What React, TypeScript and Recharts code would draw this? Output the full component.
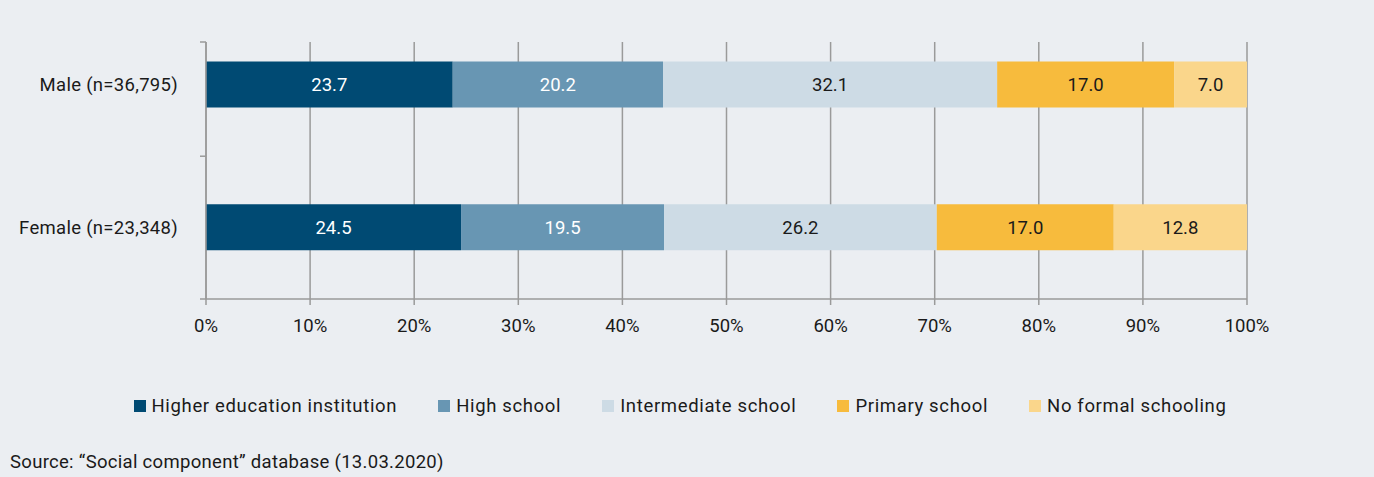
import { Bar, BarChart, CartesianGrid, LabelList, XAxis, YAxis } from "recharts"

const categories = ["Male (n=36,795)", "Female (n=23,348)"]
const higherEducation = [23.7, 24.5]
const highSchool = [20.2, 19.5]
const intermediateSchool = [32.1, 26.2]
const primarySchool = [17.0, 17.0]
const noFormalSchooling = [7.0, 12.8]
const xTicks = [0, 10, 20, 30, 40, 50, 60, 70, 80, 90, 100]

const series = [
  { key: "higher", name: "Higher education institution", values: higherEducation, color: "#004a73", text: "#ffffff" },
  { key: "high", name: "High school", values: highSchool, color: "#6896b3", text: "#ffffff" },
  { key: "intermediate", name: "Intermediate school", values: intermediateSchool, color: "#cddbe5", text: "#1a1a1a" },
  { key: "primary", name: "Primary school", values: primarySchool, color: "#f7bb3d", text: "#1a1a1a" },
  { key: "none", name: "No formal schooling", values: noFormalSchooling, color: "#fad68b", text: "#1a1a1a" },
]

const FONT = "Roboto, 'Noto Sans', sans-serif"
const BG = "#ebeef2"
const GRID = "#9a9a9a"
const FS = 18.5

const data = categories.map((name, i) => {
  const row: Record<string, number | string> = { name, pos: i }
  series.forEach((s) => {
    row[s.key] = s.values[i]
  })
  return row
})

// bars sit at 0 and 1 (axis runs downward), short tick marks at the band edges
const yTicks = [-0.3, 0, 0.5, 1, 1.5]

function YTick(props: any) {
  const { x, y, payload } = props
  const v = payload.value
  if (v === 0 || v === 1) {
    return (
      <text
        x={x - 28}
        y={y}
        dy="0.35em"
        textAnchor="end"
        fontSize={FS}
        fill="#1a1a1a"
        fontFamily={FONT}
        letterSpacing={0.3}
      >
        {categories[v]}
      </text>
    )
  }
  return <line x1={x - 6} x2={x} y1={y} y2={y} stroke={GRID} strokeWidth={1.5} />
}

export default function App() {
  return (
    <div style={{ position: "absolute", left: 0, top: 0, width: 1374, height: 477, background: BG, fontFamily: FONT }}>
      <BarChart
        layout="vertical"
        width={1374}
        height={340}
        data={data}
        margin={{ top: 42, right: 127, bottom: 11, left: 0 }}
      >
        <CartesianGrid horizontal={false} stroke={GRID} strokeWidth={1.5} />
        <XAxis
          type="number"
          domain={[0, 100]}
          ticks={xTicks}
          tickFormatter={(v) => `${v}%`}
          axisLine={{ stroke: GRID, strokeWidth: 1.5 }}
          tickLine={{ stroke: GRID, strokeWidth: 1.5 }}
          tickSize={6}
          tickMargin={14}
          height={30}
          tick={{ fontSize: FS, fill: "#1a1a1a", fontFamily: FONT }}
          interval={0}
        />
        <YAxis
          type="number"
          dataKey="pos"
          domain={[-0.3, 1.5]}
          ticks={yTicks}
          width={206}
          tickSize={0}
          tickMargin={0}
          tickLine={false}
          axisLine={{ stroke: GRID, strokeWidth: 1.5 }}
          tick={<YTick />}
          interval={0}
          allowDataOverflow
        />
        {series.map((s) => (
          <Bar key={s.key} dataKey={s.key} name={s.name} stackId="a" fill={s.color} barSize={46} isAnimationActive={false}>
            <LabelList
              dataKey={s.key}
              position="center"
              formatter={(v: any) => Number(v).toFixed(1)}
              fill={s.text}
              fontSize={FS}
              fontFamily={FONT}
            />
          </Bar>
        ))}
      </BarChart>
      <div
        style={{
          position: "absolute",
          top: 395,
          left: 0,
          width: 1374,
          display: "flex",
          justifyContent: "center",
          paddingRight: 14,
          boxSizing: "border-box",
          gap: 41,
          fontSize: FS,
          letterSpacing: 0.65,
          color: "#1a1a1a",
          lineHeight: "22px",
        }}
      >
        {series.map((s) => (
          <div key={s.key} style={{ display: "flex", alignItems: "center" }}>
            <span style={{ width: 12, height: 12, background: s.color, marginRight: 6, display: "inline-block" }} />
            {s.name}
          </div>
        ))}
      </div>
      <div
        style={{
          position: "absolute",
          left: 10,
          top: 451,
          fontSize: FS,
          letterSpacing: 0.3,
          color: "#1a1a1a",
          lineHeight: "22px",
        }}
      >
        Source: “Social component” database (13.03.2020)
      </div>
    </div>
  )
}
